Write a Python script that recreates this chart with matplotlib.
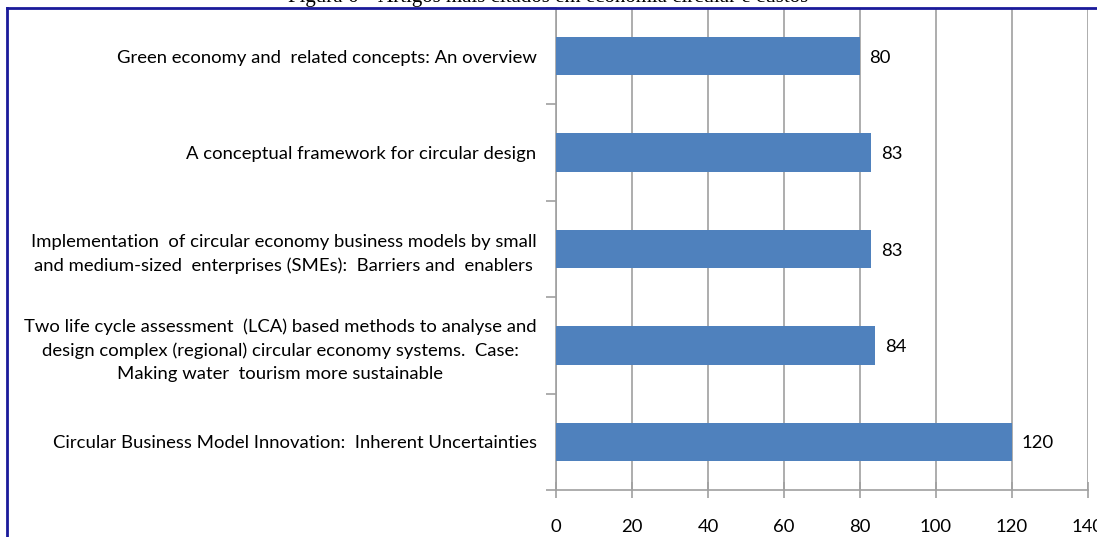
import matplotlib.pyplot as plt
from matplotlib.lines import Line2D

titles = [
    'Circular Business Model Innovation:  Inherent Uncertainties',
    'Two life cycle assessment  (LCA) based methods to analyse and\n'
    'design complex (regional) circular economy systems.  Case:\n'
    'Making water  tourism more sustainable',
    'Implementation  of circular economy business models by small\n'
    'and medium-sized  enterprises (SMEs):  Barriers and  enablers',
    'A conceptual framework for circular design',
    'Green economy and  related concepts: An overview',
]
citations = [120, 84, 83, 83, 80]
xticks = [0, 20, 40, 60, 80, 100, 120, 140]

plt.rcParams['font.family'] = ['Lato', 'DejaVu Sans']
fs = 13.3

fig = plt.figure(figsize=(10.97, 5.37), dpi=100)
ax = fig.add_axes([556 / 1097, 1 - 490 / 537, (1088 - 556) / 1097, (490 - 8) / 537])

pos = list(range(len(citations)))
ax.barh(pos, citations, height=0.4, color='#4F81BD', zorder=3)
for p, v in zip(pos, citations):
    ax.text(v + 2.5, p, str(v), va='center_baseline', ha='left', fontsize=fs, color='black')

ax.set_xlim(0, 140)
ax.set_ylim(-0.5, len(citations) - 0.5)
ax.set_xticks(xticks)
ax.set_xticklabels([str(t) for t in xticks], fontsize=fs)
ax.xaxis.grid(True, color='#A0A0A0', linewidth=1.2, zorder=0)

# category labels between tick marks, like Excel
ax.set_yticks([p - 0.5 for p in pos] + [len(pos) - 0.5])
ax.set_yticklabels([])
ax.set_yticks(pos, minor=True)
ax.set_yticklabels(titles, minor=True, fontsize=fs, ha='right', multialignment='center',
                   linespacing=1.55)
ax.tick_params(axis='y', which='minor', length=0, pad=14)
ax.tick_params(axis='y', which='major', length=7, color='#A0A0A0', width=1.2)
ax.tick_params(axis='x', direction='inout', length=12, color='#A0A0A0', width=1.2, pad=15)

for s in ['top', 'right']:
    ax.spines[s].set_visible(False)
for s in ['left', 'bottom']:
    ax.spines[s].set_color('#A0A0A0')
    ax.spines[s].set_linewidth(1.2)

# outer chart frame (cut-off screenshot)
fig.add_artist(Line2D([7 / 1097, 7 / 1097], [0, 1 - 8 / 537], color='#1A1A9A', lw=2))
fig.add_artist(Line2D([7 / 1097, 1], [1 - 8 / 537, 1 - 8 / 537], color='#1A1A9A', lw=2))

fig.text(548 / 1097, 1 + 2 / 537, 'Figura 6 \u2013 Artigos mais citados em economia circular e custos',
         ha='center', va='center', fontsize=15, family='Liberation Serif')

fig.savefig('out.png', dpi=100)
